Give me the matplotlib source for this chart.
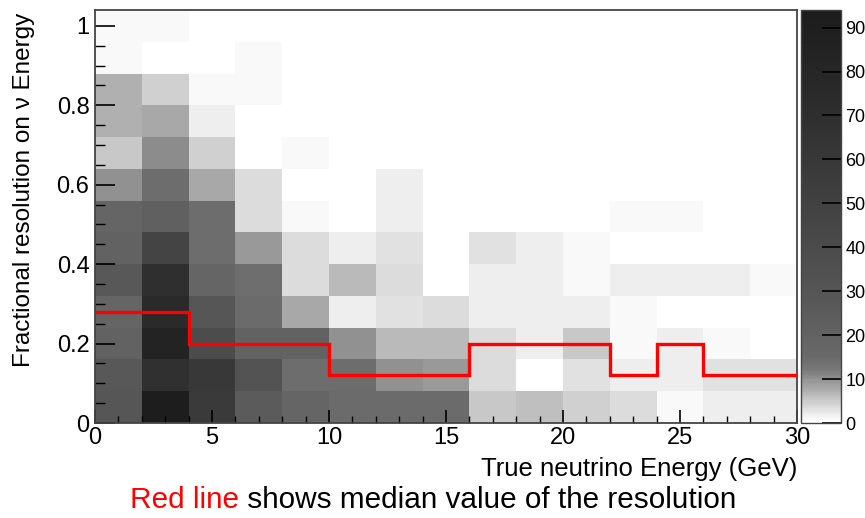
import numpy as np
import matplotlib
matplotlib.use("Agg")
import matplotlib.pyplot as plt
from matplotlib import font_manager
from matplotlib.colors import LinearSegmentedColormap, Normalize
from matplotlib.ticker import MultipleLocator

# energy bins (GeV) and resolution bins
x_edges = np.arange(0, 32, 2)
y_edges = np.linspace(0, 1.04, 14)

# counts per cell, rows = resolution bins from 0 upward, cols = energy bins
counts = np.array([
    [30, 92, 58, 26, 18, 15, 15, 15, 5.5, 6, 4.5, 3.5, 1, 2, 2],
    [28, 69, 60, 32, 14.5, 14.5, 10, 9.5, 3.5, 0, 3, 2, 2, 3, 3],
    [20, 84, 39, 20, 20, 10, 6.5, 6.5, 3.5, 2, 5.5, 1, 2, 1, 0],
    [18, 75, 30, 15, 8, 2, 3, 3.5, 2, 2, 2, 1, 0, 0, 0],
    [28, 70, 18, 14, 3.5, 6.6, 3.5, 0, 2, 2, 1, 2, 2, 2, 1],
    [20, 47, 14.5, 9.3, 3.5, 2, 3, 0, 3, 2, 1, 0, 0, 0, 0],
    [18, 22, 14.5, 3.5, 1, 0, 2, 0, 0, 0, 0, 1, 1, 0, 0],
    [10, 14.5, 8, 3.5, 0, 0, 2, 0, 0, 0, 0, 0, 0, 0, 0],
    [5.5, 10.5, 4.5, 0, 1, 0, 0, 0, 0, 0, 0, 0, 0, 0, 0],
    [7, 8, 2, 0, 0, 0, 0, 0, 0, 0, 0, 0, 0, 0, 0],
    [7, 4.5, 1, 1, 0, 0, 0, 0, 0, 0, 0, 0, 0, 0, 0],
    [1, 0, 0, 1, 0, 0, 0, 0, 0, 0, 0, 0, 0, 0, 0],
    [1, 1, 0, 0, 0, 0, 0, 0, 0, 0, 0, 0, 0, 0, 0],
])

# median resolution per energy bin (red line)
median = [0.28, 0.28, 0.2, 0.2, 0.2, 0.12, 0.12, 0.12, 0.2, 0.2, 0.2, 0.12, 0.2, 0.12, 0.12]

z_max = 94
x_ticks = [0, 5, 10, 15, 20, 25, 30]
y_ticks = [0, 0.2, 0.4, 0.6, 0.8, 1]
cb_ticks = [0, 10, 20, 30, 40, 50, 60, 70, 80, 90]

# pick a narrow sans font if there is one
try:
    font_manager.findfont("Liberation Sans Narrow", fallback_to_default=False)
    fam = "Liberation Sans Narrow"
except Exception:
    fam = "Liberation Sans"
plt.rcParams["font.family"] = fam

# grey palette: white at 0, fast drop to mid grey, then slowly darker
stops = [(0, 1.0), (1, 0.968), (2, 0.925), (3, 0.878), (4, 0.835), (5, 0.79),
         (6, 0.745), (7, 0.69), (8, 0.65), (10, 0.565), (12, 0.47), (15, 0.415),
         (20, 0.385), (30, 0.335), (45, 0.275), (60, 0.22), (75, 0.165), (94, 0.11)]
cmap = LinearSegmentedColormap.from_list(
    "greys_root", [(v / z_max, (g, g, g)) for v, g in stops])
norm = Normalize(vmin=0, vmax=z_max)

fig = plt.figure(figsize=(8.65, 5.18), dpi=100)
W, H = 865, 518
ax = fig.add_axes([95 / W, (H - 423) / H, 702 / W, 413 / H])

ax.pcolormesh(x_edges, y_edges, np.ma.masked_equal(counts, 0), cmap=cmap, norm=norm)
ax.stairs(median, x_edges, baseline=None, color="#ff0000", lw=2.4, zorder=3)

ax.set_xlim(0, 30)
ax.set_ylim(0, 1.04)
ax.set_xticks(x_ticks)
ax.set_yticks(y_ticks)
ax.set_yticklabels(["0", "0.2", "0.4", "0.6", "0.8", "1"])
ax.xaxis.set_minor_locator(MultipleLocator(1))
ax.yaxis.set_minor_locator(MultipleLocator(0.05))
ax.tick_params(axis="x", which="major", direction="in", length=9.4, width=1.2,
               labelsize=17, pad=3, top=False)
ax.tick_params(axis="x", which="minor", direction="in", length=4.7, width=1.0, top=False)
ax.tick_params(axis="y", which="major", direction="in", length=14.4, width=1.2,
               labelsize=17, pad=4, right=False)
ax.tick_params(axis="y", which="minor", direction="in", length=7.2, width=1.0, right=False)
for s in ax.spines.values():
    s.set_color("#444444")
    s.set_linewidth(1.3)

# colour scale on the right
cax = fig.add_axes([801 / W, (H - 423) / H, 40 / W, 413 / H])
cb = fig.colorbar(plt.cm.ScalarMappable(norm=norm, cmap=cmap), cax=cax)
cb.set_ticks(cb_ticks)
cb.outline.set_edgecolor("#444444")
cb.outline.set_linewidth(1.0)
cax.tick_params(direction="in", length=13.7, width=1.2, labelsize=13, pad=3)

fig.text(24 / W, (H - 13) / H, "Fractional resolution on \u03bd Energy",
         rotation=90, ha="center", va="top", fontsize=17.5)
fig.text(797 / W, (H - 476) / H, "True neutrino Energy (GeV)",
         ha="right", va="baseline", fontsize=18.5)

# caption with the red part
red = fig.text(130 / W, (H - 508) / H, "Red line", color="#ff0000",
               ha="left", va="baseline", fontsize=21.4)
fig.canvas.draw()
bb = red.get_window_extent()
fig.text(bb.x1 / W, (H - 508) / H, " shows median value of the resolution",
         color="black", ha="left", va="baseline", fontsize=21.4)

fig.savefig("out.png", dpi=100)
